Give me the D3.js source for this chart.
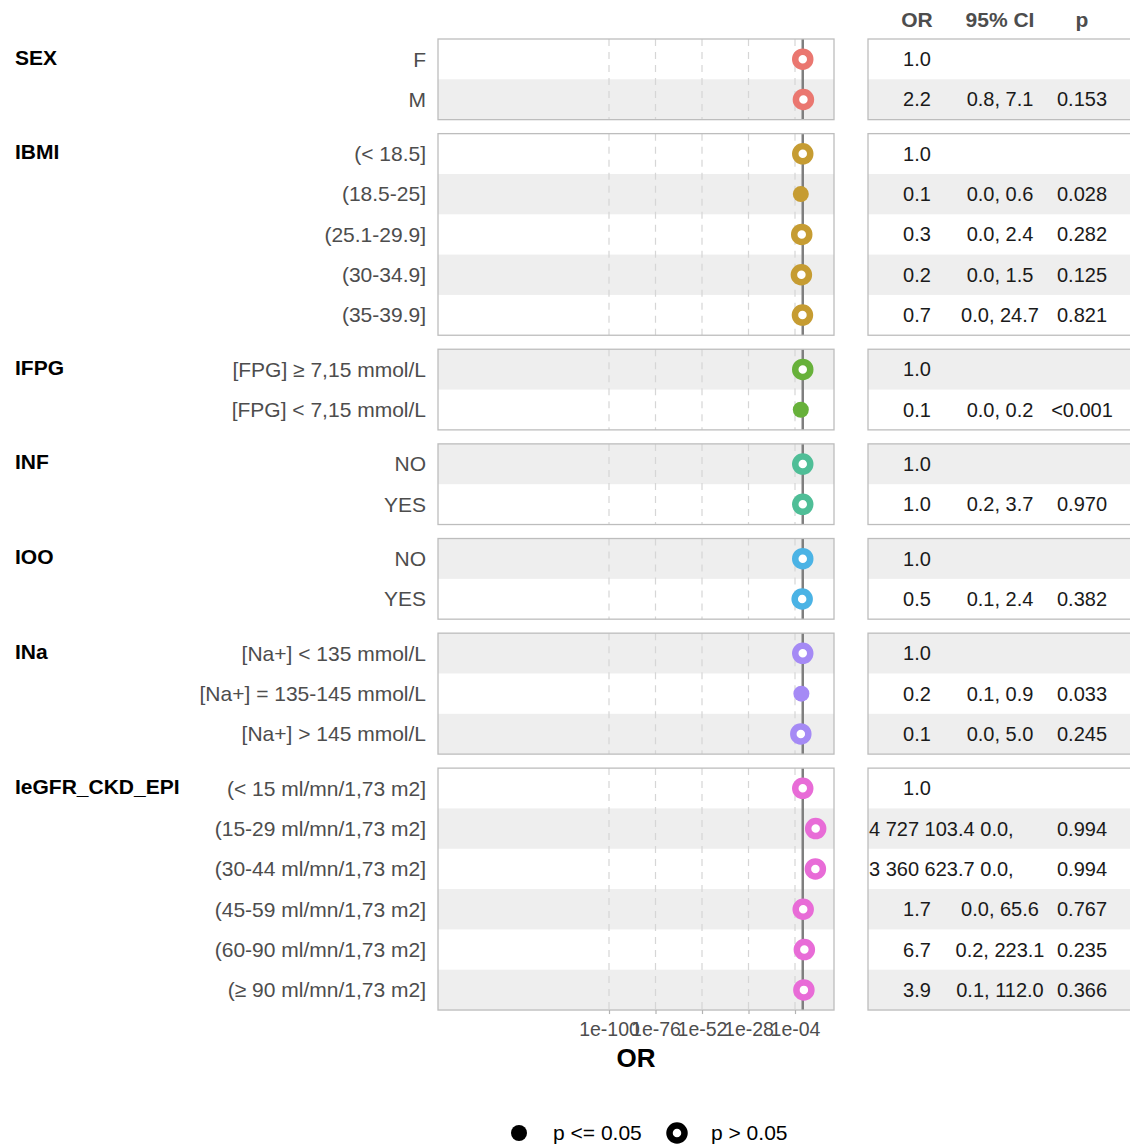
<!DOCTYPE html>
<html>
<head>
<meta charset="utf-8">
<script src="https://cdn.jsdelivr.net/npm/d3@7"></script>
<style>
  body { margin: 0; background: #fff; }
  text { font-family: "Liberation Sans", Arial, Helvetica, sans-serif; }
</style>
</head>
<body>
<script>
const width = 1130
const height = 1148

// Datos
const groups = ['SEX', 'IBMI', 'IFPG', 'INF', 'IOO', 'INa', 'IeGFR_CKD_EPI']
const groupColors = ['#EA7770', '#C69C32', '#67B13A', '#4FBE97', '#4BB3E5', '#A58AF5', '#E86CD7']
const levelGroup = ['SEX', 'SEX',
  'IBMI', 'IBMI', 'IBMI', 'IBMI', 'IBMI',
  'IFPG', 'IFPG',
  'INF', 'INF',
  'IOO', 'IOO',
  'INa', 'INa', 'INa',
  'IeGFR_CKD_EPI', 'IeGFR_CKD_EPI', 'IeGFR_CKD_EPI', 'IeGFR_CKD_EPI', 'IeGFR_CKD_EPI', 'IeGFR_CKD_EPI']
const levels = ['F', 'M',
  '(< 18.5]', '(18.5-25]', '(25.1-29.9]', '(30-34.9]', '(35-39.9]',
  '[FPG] ≥ 7,15 mmol/L', '[FPG] < 7,15 mmol/L',
  'NO', 'YES',
  'NO', 'YES',
  '[Na+] < 135 mmol/L', '[Na+] = 135-145 mmol/L', '[Na+] > 145 mmol/L',
  '(< 15 ml/mn/1,73 m2]', '(15-29 ml/mn/1,73 m2]', '(30-44 ml/mn/1,73 m2]',
  '(45-59 ml/mn/1,73 m2]', '(60-90 ml/mn/1,73 m2]', '(≥ 90 ml/mn/1,73 m2]']
const orValues = [1.0, 2.2,
  1.0, 0.1, 0.3, 0.2, 0.7,
  1.0, 0.1,
  1.0, 1.0,
  1.0, 0.5,
  1.0, 0.2, 0.1,
  1.0, 4727103.4, 3360623.7, 1.7, 6.7, 3.9]
const ciLow = [null, 0.8,
  null, 0.0, 0.0, 0.0, 0.0,
  null, 0.0,
  null, 0.2,
  null, 0.1,
  null, 0.1, 0.0,
  null, 0.0, 0.0, 0.0, 0.2, 0.1]
const ciHigh = [null, 7.1,
  null, 0.6, 2.4, 1.5, 24.7,
  null, 0.2,
  null, 3.7,
  null, 2.4,
  null, 0.9, 5.0,
  null, null, null, 65.6, 223.1, 112.0]
const pValues = [null, 0.153,
  null, 0.028, 0.282, 0.125, 0.821,
  null, 0.0005,
  null, 0.970,
  null, 0.382,
  null, 0.033, 0.245,
  null, 0.994, 0.994, 0.767, 0.235, 0.366]
const tickValues = [1e-100, 1e-76, 1e-52, 1e-28, 1e-4]
const tableHeaders = ['OR', '95% CI', 'p']

// Layout
const rowH = 40.32
const gap = 14
const top0 = 39
const plotL = 438, plotR = 834
const tabL = 868, tabR = 1140
const colX = [917, 1000, 1082]

const x = d3.scaleLog()
  .domain([Math.pow(10, -188.26), Math.pow(10, 16.13)])
  .range([plotL, plotR])

const color = d3.scaleOrdinal().domain(groups).range(groupColors)

const loc = d3.formatLocale({ decimal: '.', thousands: ' ', grouping: [3], currency: ['', ''] })
const fmtOR = loc.format(',.1f')
const fmt1 = d3.format('.1f')
const fmtP = p => p == null ? '' : (p < 0.001 ? '<0.001' : d3.format('.3f')(p))

// filas y paneles
const rows = levels.map((l, i) => ({
  i, level: l, group: levelGroup[i], or: orValues[i],
  lo: ciLow[i], hi: ciHigh[i], p: pValues[i]
}))
const panels = []
let yCur = top0
groups.forEach(g => {
  const rs = rows.filter(r => r.group === g)
  rs.forEach((r, k) => { r.y0 = yCur + k * rowH; r.yc = r.y0 + rowH / 2 })
  panels.push({ group: g, y0: yCur, y1: yCur + rs.length * rowH, rows: rs })
  yCur += rs.length * rowH + gap
})

const svg = d3.select('body').append('svg').attr('width', width).attr('height', height)

// bandas grises
svg.append('g').selectAll('rect')
  .data(rows.filter(r => r.i % 2 === 1))
  .join('rect')
  .attr('x', plotL).attr('width', plotR - plotL)
  .attr('y', d => d.y0).attr('height', rowH)
  .attr('fill', '#eeeeee')
svg.append('g').selectAll('rect')
  .data(rows.filter(r => r.i % 2 === 1))
  .join('rect')
  .attr('x', tabL).attr('width', tabR - tabL)
  .attr('y', d => d.y0).attr('height', rowH)
  .attr('fill', '#eeeeee')

// grilla punteada
const grid = svg.append('g')
panels.forEach(p => {
  grid.selectAll(null)
    .data(tickValues)
    .join('line')
    .attr('x1', d => x(d)).attr('x2', d => x(d))
    .attr('y1', p.y0).attr('y2', p.y1)
    .attr('stroke', '#d6d6d6').attr('stroke-width', 1.2)
    .attr('stroke-dasharray', '7,6')
})

// linea OR = 1
svg.append('g').selectAll('line')
  .data(panels)
  .join('line')
  .attr('x1', x(1)).attr('x2', x(1))
  .attr('y1', d => d.y0).attr('y2', d => d.y1)
  .attr('stroke', '#7f7f7f').attr('stroke-width', 2.5)

// bordes de paneles
svg.append('g').selectAll('rect')
  .data(panels)
  .join('rect')
  .attr('x', plotL).attr('width', plotR - plotL)
  .attr('y', d => d.y0).attr('height', d => d.y1 - d.y0)
  .attr('fill', 'none').attr('stroke', '#bdbdbd').attr('stroke-width', 1.3)
svg.append('g').selectAll('rect')
  .data(panels)
  .join('rect')
  .attr('x', tabL).attr('width', tabR - tabL)
  .attr('y', d => d.y0).attr('height', d => d.y1 - d.y0)
  .attr('fill', 'none').attr('stroke', '#bdbdbd').attr('stroke-width', 1.3)

// puntos
const sig = d => d.p != null && d.p <= 0.05
svg.append('g').selectAll('circle')
  .data(rows)
  .join('circle')
  .attr('cx', d => x(d.or))
  .attr('cy', d => d.yc)
  .attr('r', d => sig(d) ? 8 : 7.5)
  .attr('fill', d => sig(d) ? color(d.group) : '#fff')
  .attr('stroke', d => sig(d) ? 'none' : color(d.group))
  .attr('stroke-width', 6.5)

// etiquetas izquierda
svg.append('g').selectAll('text')
  .data(panels)
  .join('text')
  .attr('x', 15).attr('y', d => d.rows[0].yc - 2)
  .attr('dy', '0.35em')
  .attr('font-size', 21).attr('font-weight', 'bold').attr('fill', '#000')
  .text(d => d.group)
svg.append('g').selectAll('text')
  .data(rows)
  .join('text')
  .attr('x', 426).attr('y', d => d.yc)
  .attr('dy', '0.35em').attr('text-anchor', 'end')
  .attr('font-size', 21).attr('fill', '#4d4d4d')
  .text(d => d.level)

// tabla
svg.append('g').selectAll('text')
  .data(tableHeaders)
  .join('text')
  .attr('x', (d, i) => colX[i]).attr('y', 20)
  .attr('dy', '0.35em').attr('text-anchor', 'middle')
  .attr('font-size', 21).attr('font-weight', 'bold').attr('fill', '#4d4d4d')
  .text(d => d)

const tab = svg.append('g').attr('font-size', 20).attr('fill', '#1a1a1a')
tab.selectAll('text.or')
  .data(rows)
  .join('text')
  .attr('class', 'or')
  .attr('x', colX[0]).attr('y', d => d.yc)
  .attr('dy', '0.35em').attr('text-anchor', 'middle')
  .text(d => fmtOR(d.or))
  .each(function () {
    // textos largos: que no se salgan del panel
    const w = this.getComputedTextLength()
    if (colX[0] - w / 2 < tabL + 1) {
      d3.select(this).attr('text-anchor', 'start').attr('x', tabL + 1)
    }
  })
tab.selectAll('text.ci')
  .data(rows.filter(r => r.lo != null))
  .join('text')
  .attr('class', 'ci')
  .attr('x', d => d.hi == null ? colX[1] - 3 : colX[1]).attr('y', d => d.yc)
  .attr('dy', '0.35em').attr('text-anchor', 'middle')
  .text(d => d.hi == null ? fmt1(d.lo) + ',' : fmt1(d.lo) + ', ' + fmt1(d.hi))
tab.selectAll('text.p')
  .data(rows.filter(r => r.p != null))
  .join('text')
  .attr('class', 'p')
  .attr('x', colX[2]).attr('y', d => d.yc)
  .attr('dy', '0.35em').attr('text-anchor', 'middle')
  .text(d => fmtP(d.p))

// eje x
const last = panels[panels.length - 1]
const axis = svg.append('g')
  .attr('transform', `translate(0,${last.y1})`)
  .call(d3.axisBottom(x)
    .tickValues(tickValues)
    .tickSize(4)
    .tickPadding(8)
    .tickFormat(d => '1e-' + String(-Math.round(Math.log10(d))).padStart(2, '0')))
axis.select('.domain').remove()
axis.selectAll('line').attr('stroke', '#b3b3b3').attr('stroke-width', 1.2)
axis.selectAll('text').attr('font-size', 19.5).attr('fill', '#4d4d4d')
  .attr('font-family', '"Liberation Sans", Arial, sans-serif')

svg.append('text')
  .attr('x', (plotL + plotR) / 2).attr('y', 1058)
  .attr('dy', '0.35em').attr('text-anchor', 'middle')
  .attr('font-size', 26).attr('font-weight', 'bold').attr('fill', '#000')
  .text('OR')

// leyenda
const legend = svg.append('g').attr('transform', 'translate(0,1133)')
legend.append('circle').attr('cx', 519).attr('cy', 0).attr('r', 8).attr('fill', '#000')
legend.append('text').attr('x', 553).attr('dy', '0.35em').attr('font-size', 21).text('p <= 0.05')
legend.append('circle').attr('cx', 677).attr('cy', 0).attr('r', 7.5)
  .attr('fill', '#fff').attr('stroke', '#000').attr('stroke-width', 6.5)
legend.append('text').attr('x', 711).attr('dy', '0.35em').attr('font-size', 21).text('p > 0.05')
</script>
</body>
</html>
